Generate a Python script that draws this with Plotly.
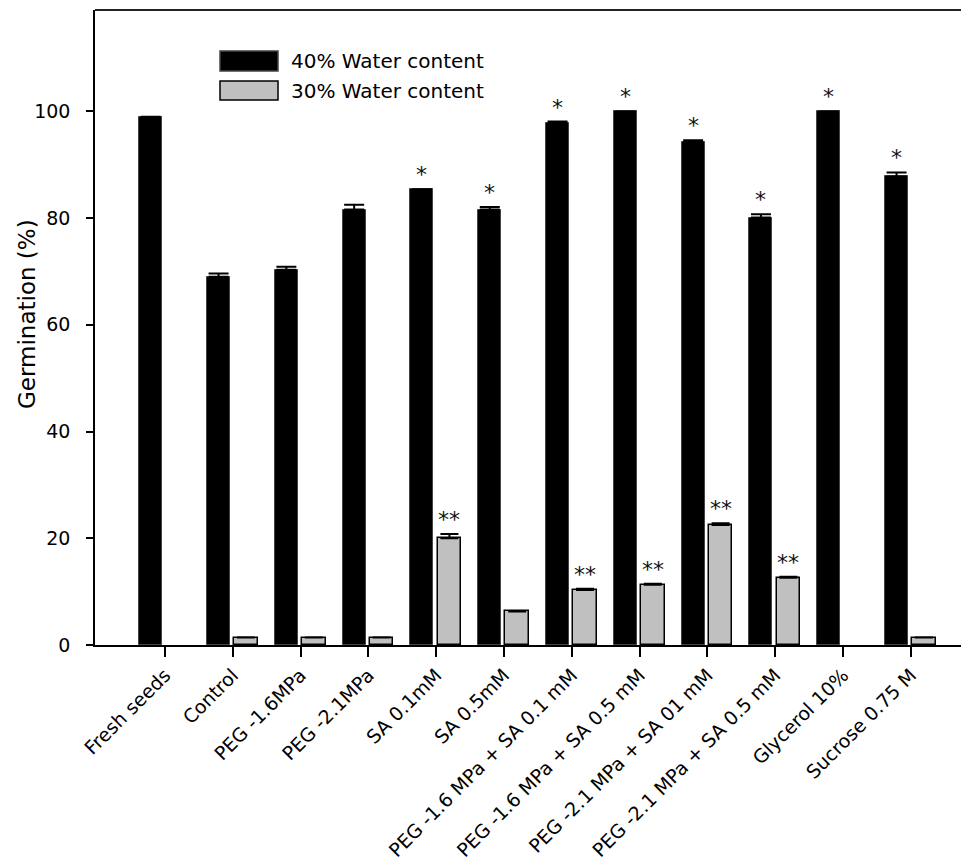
import plotly.graph_objects as go

categories = ["Fresh seeds", "Control", "PEG -1.6MPa", "PEG -2.1MPa", "SA 0.1mM", "SA 0.5mM",
              "PEG -1.6 MPa + SA 0.1 mM", "PEG -1.6 MPa + SA 0.5 mM",
              "PEG -2.1 MPa + SA 01 mM", "PEG -2.1 MPa + SA 0.5 mM",
              "Glycerol 10%", "Sucrose 0.75 M"]
wc40 = [99.0, 69.0, 70.3, 81.6, 85.4, 81.6, 97.8, 100.0, 94.3, 80.1, 100.0, 87.8]
wc40_err = [0, 0.6, 0.6, 0.9, 0, 0.5, 0.3, 0, 0.3, 0.6, 0, 0.75]
wc30 = [None, 1.4, 1.4, 1.4, 20.0, 6.3, 10.3, 11.3, 22.5, 12.6, None, 1.4]
wc30_err = [0, 0, 0, 0, 0.8, 0, 0.25, 0.2, 0.3, 0.2, 0, 0]
sig40 = ["", "", "", "", "*", "*", "*", "*", "*", "*", "*", "*"]
sig30 = ["", "", "", "", "**", "", "**", "**", "**", "**", "", ""]
y_ticks = [0, 20, 40, 60, 80, 100]

FONT = "DejaVu Sans"
idx = list(range(len(categories)))

B_OFF, B_W = -0.38, 0.34
G_OFF, G_W = 0.02, 0.35

fig = go.Figure()
fig.add_trace(go.Bar(
    x=idx, y=wc40, offset=B_OFF, width=B_W, name="40% Water content",
    marker=dict(color="black", line=dict(color="#444", width=1)),
    error_y=dict(type="data", array=wc40_err, arrayminus=[0]*len(idx), symmetric=False,
                 color="black", thickness=2, width=10),
    showlegend=False))
fig.add_trace(go.Bar(
    x=idx, y=wc30, offset=G_OFF, width=G_W, name="30% Water content",
    marker=dict(color="#c0c0c0", line=dict(color="black", width=1.5)),
    error_y=dict(type="data", array=wc30_err, arrayminus=[0]*len(idx), symmetric=False,
                 color="black", thickness=2, width=9),
    showlegend=False))

annotations = []
for i in idx:
    if sig40[i]:
        annotations.append(dict(x=i + B_OFF + B_W / 2, y=wc40[i] + wc40_err[i], xref="x", yref="y",
                                text=sig40[i], showarrow=False, yanchor="bottom", yshift=0,
                                font=dict(family=FONT, size=22, color="#111")))
    if sig30[i]:
        annotations.append(dict(x=i + G_OFF + G_W / 2, y=wc30[i] + wc30_err[i], xref="x", yref="y",
                                text=sig30[i], showarrow=False, yanchor="bottom", yshift=0,
                                font=dict(family=FONT, size=22, color="#111")))

# page body adds an 8px offset; compensate in margins
W, H = 969, 861
OFF = 8
L, R, T, B = 95 - OFF, 0, 10 - OFF, 216 + OFF
pw, ph = W - L - R, H - T - B
def px(xp):
    return (xp - 95) / pw
def py(yp):
    return (645 - yp) / ph

# y-axis title
annotations.append(dict(x=px(27), y=py(314), xref="paper", yref="paper", text="Germination (%)",
                        textangle=-90, showarrow=False, xanchor="center", yanchor="middle",
                        font=dict(family=FONT, size=23, color="black")))

# legend (custom)
legend_items = [("40% Water content", "black", "#444"), ("30% Water content", "#c0c0c0", "black")]
shapes = []
leg_rows = [(51, 71), (81, 100)]
for (label, fill, edge), (y0, y1) in zip(legend_items, leg_rows):
    shapes.append(dict(type="rect", xref="paper", yref="paper", x0=px(220), x1=px(278),
                       y0=py(y1), y1=py(y0), fillcolor=fill, line=dict(color=edge, width=1.5)))
    annotations.append(dict(x=px(289), y=py((y0 + y1) / 2), xref="paper", yref="paper", text=label,
                            showarrow=False, xanchor="left", yanchor="middle",
                            font=dict(family=FONT, size=20, color="black")))

# top border line
shapes.append(dict(type="line", xref="paper", yref="paper", x0=0, x1=1, y0=1, y1=1,
                   line=dict(color="#222", width=2)))

unit = 67.8
x0 = -70 / unit
fig.update_layout(
    width=W, height=H,
    margin=dict(l=L, r=R, t=T, b=B, pad=0, autoexpand=False),
    plot_bgcolor="white", paper_bgcolor="white",
    barmode="overlay", bargap=0,
    annotations=annotations, shapes=shapes,
    xaxis=dict(range=[x0, x0 + pw / unit], tickmode="array", tickvals=idx, ticktext=categories,
               tickangle=-45, ticks="outside", ticklen=10, tickwidth=1.5, tickcolor="black",
               showline=True, linecolor="black", linewidth=1.5, showgrid=False, zeroline=False,
               automargin=False,
               tickfont=dict(family=FONT, size=19, color="black")),
    yaxis=dict(range=[0, 119], tickvals=y_ticks, ticks="outside", ticklen=7, tickwidth=1.5,
               tickcolor="black", showline=True, linecolor="black", linewidth=1.5,
               showgrid=False, zeroline=False, ticklabelstandoff=12, automargin=False,
               tickfont=dict(family=FONT, size=19, color="black")),
)

fig.write_html("out.html")
